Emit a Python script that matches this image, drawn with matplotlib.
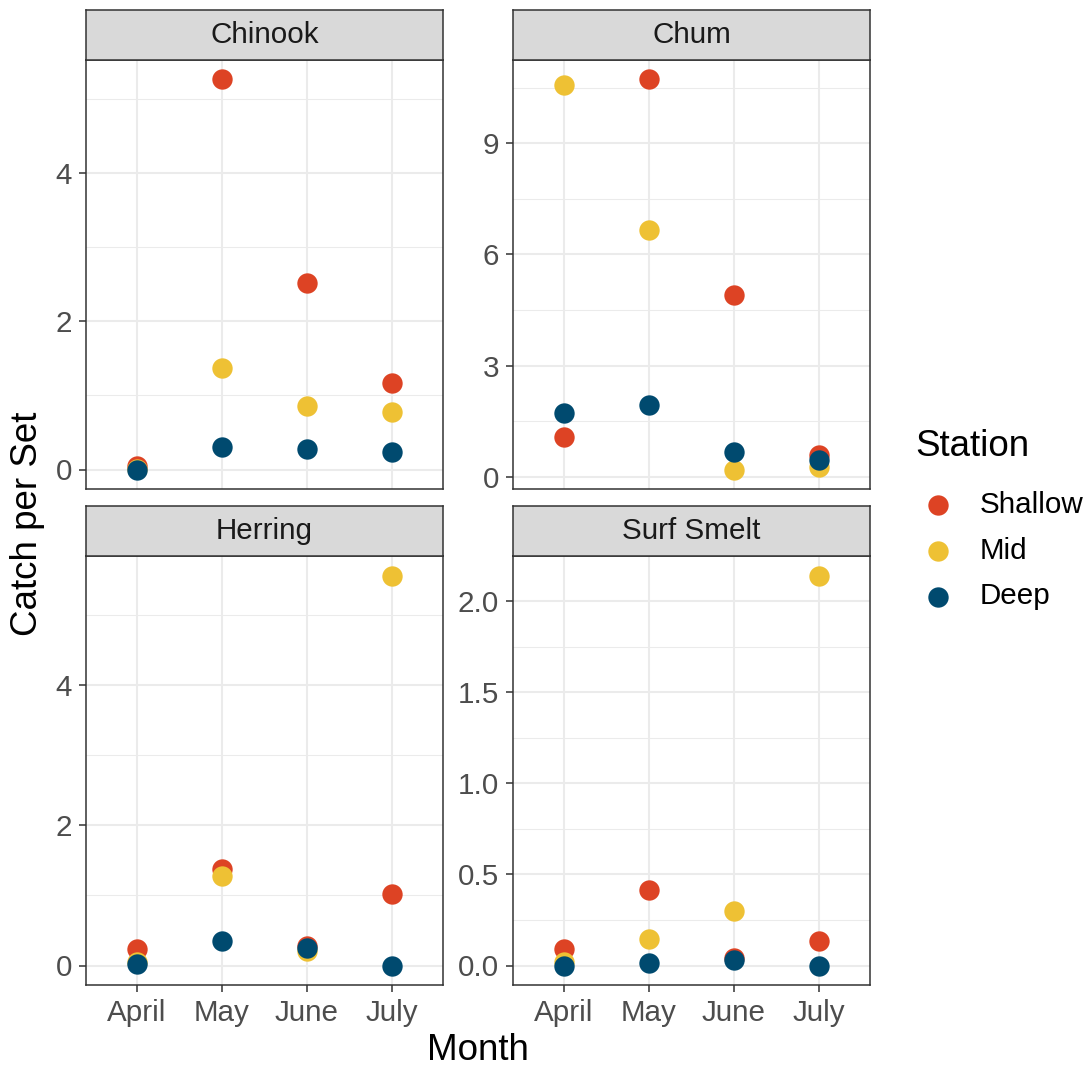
import numpy as np
import matplotlib
matplotlib.use("Agg")
import matplotlib.pyplot as plt
from matplotlib.ticker import MultipleLocator, FormatStrFormatter

plt.rcParams["font.family"] = ["Liberation Sans", "DejaVu Sans"]

MONTHS = ["April", "May", "June", "July"]
STATIONS = ["Shallow", "Mid", "Deep"]
SPECIES = ["Chinook", "Chum", "Herring", "Surf Smelt"]

CHINOOK_SHALLOW = [0.05, 5.27, 2.52, 1.17]
CHINOOK_MID = [0.01, 1.37, 0.86, 0.78]
CHINOOK_DEEP = [0.0, 0.31, 0.28, 0.23]

CHUM_SHALLOW = [1.08, 10.72, 4.92, 0.60]
CHUM_MID = [10.56, 6.67, 0.20, 0.28]
CHUM_DEEP = [1.72, 1.94, 0.68, 0.46]

HERRING_SHALLOW = [0.24, 1.38, 0.28, 1.02]
HERRING_MID = [0.05, 1.28, 0.20, 5.56]
HERRING_DEEP = [0.02, 0.35, 0.25, 0.0]

SMELT_SHALLOW = [0.093, 0.415, 0.04, 0.137]
SMELT_MID = [0.02, 0.148, 0.30, 2.14]
SMELT_DEEP = [0.0, 0.016, 0.03, 0.0]

CATCH = {
    "Chinook": [CHINOOK_SHALLOW, CHINOOK_MID, CHINOOK_DEEP],
    "Chum": [CHUM_SHALLOW, CHUM_MID, CHUM_DEEP],
    "Herring": [HERRING_SHALLOW, HERRING_MID, HERRING_DEEP],
    "Surf Smelt": [SMELT_SHALLOW, SMELT_MID, SMELT_DEEP],
}

# tick step and label format for each facet (free y scales)
TICK_STEP = {"Chinook": 2, "Chum": 3, "Herring": 2, "Surf Smelt": 0.5}
TICK_FMT = {"Chinook": "%d", "Chum": "%d", "Herring": "%d", "Surf Smelt": "%.1f"}

COLORS = {"Shallow": "#DD4324", "Mid": "#EEC134", "Deep": "#004A6F"}

SMALL, LARGE = 21.3, 26.5

W, H = 1090, 1068
fig = plt.figure(figsize=(W / 100, H / 100), dpi=100)

PANEL_W, PANEL_H, STRIP_H = 357, 429, 50
LEFTS = [86, 513]
TOPS = [60, 556]


def frac_box(left, top, width, height):
    return [left / W, (H - top - height) / H, width / W, height / H]


x = np.arange(len(MONTHS))
handles = []
for i, name in enumerate(SPECIES):
    row, col = divmod(i, 2)
    left, top = LEFTS[col], TOPS[row]
    ax = fig.add_axes(frac_box(left, top, PANEL_W, PANEL_H))
    strip = fig.add_axes(frac_box(left, top - STRIP_H, PANEL_W, STRIP_H))

    for station, values in zip(STATIONS, CATCH[name]):
        h = ax.scatter(x, values, s=215, color=COLORS[station], linewidths=0, zorder=3, label=station)
        if i == 0:
            handles.append(h)

    ax.set_xlim(-0.6, len(MONTHS) - 0.4)
    ax.margins(y=0.05)
    step = TICK_STEP[name]
    ax.yaxis.set_major_locator(MultipleLocator(step))
    ax.yaxis.set_minor_locator(MultipleLocator(step / 2))
    ax.yaxis.set_major_formatter(FormatStrFormatter(TICK_FMT[name]))
    ax.set_xticks(x)
    ax.set_xticks([], minor=True)
    ax.grid(which="major", color="#EBEBEB", linewidth=1.5, zorder=0)
    ax.grid(which="minor", axis="y", color="#EBEBEB", linewidth=0.75, zorder=0)
    ax.set_axisbelow(True)
    for spine in ax.spines.values():
        spine.set_color("#333333")
        spine.set_linewidth(1.1)
    ax.tick_params(axis="both", which="major", length=5, width=1.1, color="#333333",
                   labelsize=SMALL, labelcolor="#4D4D4D", pad=5)
    ax.tick_params(axis="y", which="minor", length=0)
    if row == 1:
        ax.set_xticklabels(MONTHS)
    else:
        ax.tick_params(axis="x", length=0, labelbottom=False)

    strip.set_facecolor("#D9D9D9")
    strip.set_xticks([])
    strip.set_yticks([])
    for spine in strip.spines.values():
        spine.set_color("#333333")
        spine.set_linewidth(1.1)
    strip.text(0.5, 0.5, name, ha="center", va="center", fontsize=SMALL, color="#1A1A1A",
               transform=strip.transAxes)

fig.text(478 / W, 1 - 1050 / H, "Month", ha="center", va="center", fontsize=LARGE)
fig.text(28 / W, 1 - 524 / H, "Catch per Set", ha="center", va="center", fontsize=LARGE, rotation=90)

# legend: title placed on its own, keys below
fig.text(915 / W, 1 - 446 / H, "Station", ha="left", va="center", fontsize=LARGE)
fig.legend(handles=handles, labels=STATIONS, loc="upper left",
           bbox_to_anchor=(903 / W, 1 - 479 / H), frameon=False, fontsize=SMALL,
           labelspacing=0.6, handlelength=1.55, handletextpad=0.64, borderaxespad=0)

fig.savefig("out.png", dpi=100)
